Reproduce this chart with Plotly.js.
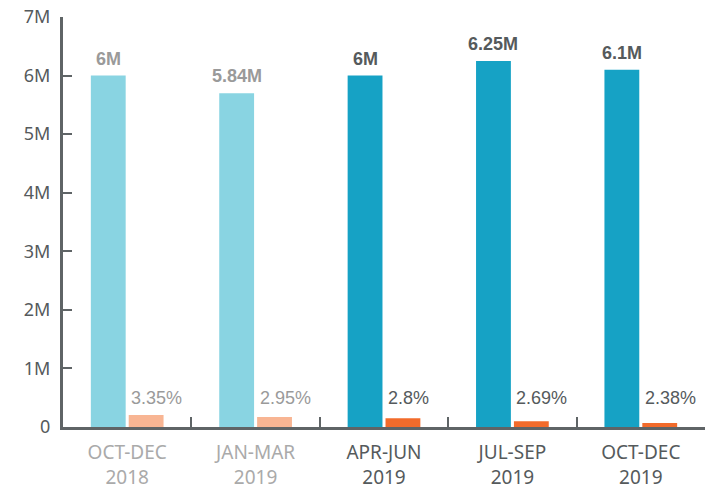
<!DOCTYPE html>
<html>
<head>
<meta charset="utf-8">
<script src="https://cdn.plot.ly/plotly-3.0.1.min.js"></script>
<style>html,body{margin:0;padding:0;background:#fff;}#chart{width:705px;height:490px;}</style>
</head>
<body>
<div id="chart"></div>
<script>
// ---- data ----
var categories = ["OCT-DEC<br>2018", "JAN-MAR<br>2019", "APR-JUN<br>2019", "JUL-SEP<br>2019", "OCT-DEC<br>2019"];
var totalValues = [6.0, 5.7, 6.0, 6.25, 6.1];          // bar heights in millions (as drawn)
var totalLabels = ["6M", "5.84M", "6M", "6.25M", "6.1M"];
var rateValues = [0.205, 0.17, 0.15, 0.10, 0.07];      // small bar heights in millions (as drawn)
var rateLabels = ["3.35%", "2.95%", "2.8%", "2.69%", "2.38%"];
var yTickVals = [0, 1, 2, 3, 4, 5, 6, 7];
var yTickText = ["0", "1M", "2M", "3M", "4M", "5M", "6M", "7M"];

// ---- styles ----
var totalColors = ["#89D4E2", "#89D4E2", "#16A2C5", "#16A2C5", "#16A2C5"];
var rateColors = ["#F8B593", "#F8B593", "#F26B2B", "#F26B2B", "#F26B2B"];
var labelColors = ["#9a9a9a", "#9a9a9a", "#555a5c", "#555a5c", "#555a5c"];
var tickColors = ["#aaaaaa", "#aaaaaa", "#555a5c", "#555a5c", "#555a5c"];
var axisColor = "#5f6466";

var xIdx = categories.map(function(c, i){ return i; });
var tickText = categories.map(function(c, i){
  return '<span style="color:' + tickColors[i] + '">' + c + '</span>';
});

var traces = [
  {type: "bar", x: xIdx, y: totalValues, marker: {color: totalColors}, hoverinfo: "skip"},
  {type: "bar", x: xIdx, y: rateValues, marker: {color: rateColors}, hoverinfo: "skip"}
];

var annotations = [];
xIdx.forEach(function(i){
  annotations.push({
    x: i, y: totalValues[i], xref: "x", yref: "y", text: totalLabels[i], showarrow: false,
    xanchor: "center", yanchor: "bottom", xshift: -19, yshift: 5,
    font: {family: "Liberation Sans, Arial, sans-serif", size: 18, color: labelColors[i], weight: "bold"}
  });
  annotations.push({
    x: i, y: 0, xref: "x", yref: "y", text: rateLabels[i], showarrow: false,
    xanchor: "left", yanchor: "bottom", xshift: 2, yshift: 17,
    font: {family: "Liberation Sans, Arial, sans-serif", size: 18, color: labelColors[i]}
  });
});

var layout = {
  width: 705, height: 490,
  margin: {l: 63, r: 0, t: 17, b: 63, pad: 0},
  paper_bgcolor: "#ffffff", plot_bgcolor: "#ffffff",
  showlegend: false,
  barmode: "group", bargap: 0.41, bargroupgap: 0.08,
  font: {family: "Noto Sans, Open Sans, sans-serif", color: "#555a5c"},
  xaxis: {
    type: "linear", range: [-0.5, 4.5],
    tickmode: "array", tickvals: xIdx, ticktext: tickText,
    ticks: "", showgrid: false, zeroline: false,
    showline: true, linecolor: axisColor, linewidth: 3,
    tickfont: {family: "Noto Sans, Open Sans, sans-serif", size: 19, color: "#555a5c"},
    ticklabelstandoff: 6,
    fixedrange: true
  },
  xaxis2: {
    overlaying: "x", range: [-0.5, 4.5], tickmode: "array", tickvals: [0.5, 1.5, 2.5, 3.5],
    ticks: "inside", ticklen: 10, tickwidth: 2, tickcolor: axisColor, showticklabels: false,
    showgrid: false, zeroline: false, anchor: "y"
  },
  yaxis: {
    range: [0, 7], tickmode: "array", tickvals: yTickVals, ticktext: yTickText,
    ticks: "inside", ticklen: 9, tickwidth: 2, tickcolor: axisColor,
    showgrid: false, zeroline: false, showline: true, linecolor: axisColor, linewidth: 3,
    tickfont: {family: "Noto Sans, Open Sans, sans-serif", size: 18, color: "#555a5c"},
    ticklabelstandoff: 6,
    fixedrange: true
  },
  annotations: annotations
};

// invisible trace to activate xaxis2 for the boundary ticks
traces.push({type: "scatter", x: [0], y: [0], xaxis: "x2", yaxis: "y", mode: "markers",
  marker: {opacity: 0}, hoverinfo: "skip"});

Plotly.newPlot("chart", traces, layout, {displayModeBar: false, staticPlot: true});
</script>
</body>
</html>
